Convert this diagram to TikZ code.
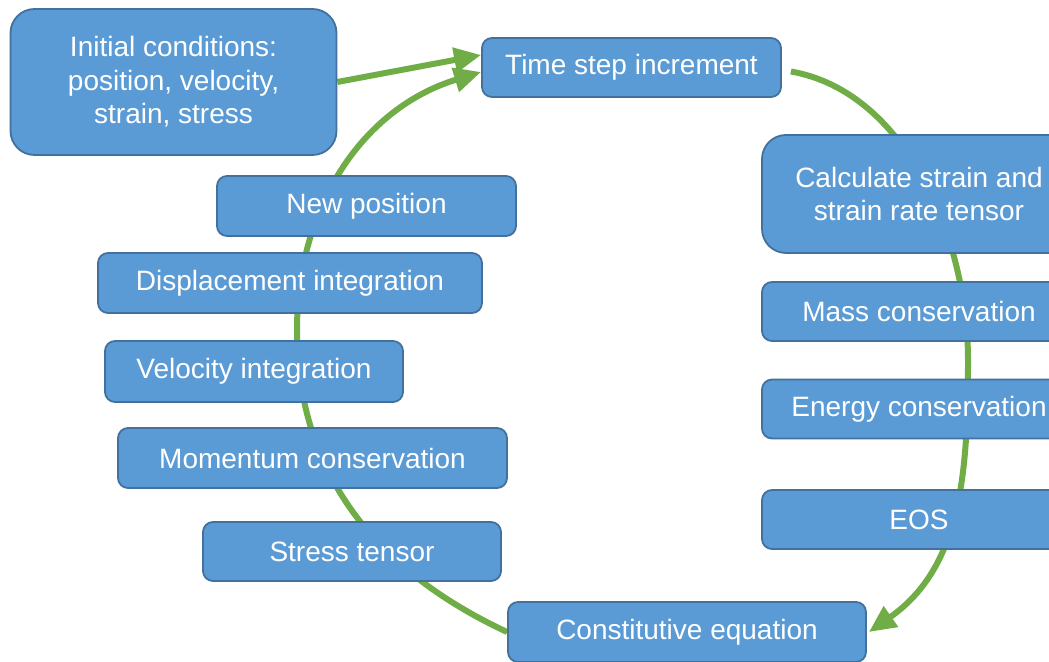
\documentclass[tikz,border=0pt]{standalone}
\usepackage{fontspec}
\setmainfont{Liberation Sans}
\usetikzlibrary{arrows.meta,backgrounds}
\definecolor{boxblue}{HTML}{5B9BD5}
\definecolor{boxedge}{HTML}{41719C}
\definecolor{flowgreen}{HTML}{70AD47}

\begin{document}
\begin{tikzpicture}[x=1pt,y=1pt,
    every node/.style={inner sep=2pt},
    stepbox/.style={draw=boxedge,line width=1.8pt,fill=boxblue,rounded corners=10pt,
      text=white,font=\fontsize{28}{33.5}\selectfont,align=center,minimum height=59pt},
    bigbox/.style={stepbox,rounded corners=24pt},
    flow/.style={draw=flowgreen,line width=6pt},
    flowarrow/.style={flow,-{Triangle[length=27pt,width=24pt]}}]
    \clip (0,0) rectangle (1049,661);
    % start and time loop head
    \node[bigbox,minimum width=326pt,minimum height=146pt] (init) at (173.5,579) {Initial conditions:\\position, velocity,\\strain, stress};
    \node[stepbox,minimum width=299pt] (tstep) at (631.5,593.5) {Time step increment};
    % right-hand column
    \node[bigbox,minimum width=314pt,minimum height=118pt] (strain) at (919,467) {Calculate strain and\\strain rate tensor};
    \node[stepbox,minimum width=314pt] (mass)   at (919,349.5) {Mass conservation};
    \node[stepbox,minimum width=314pt] (energy) at (919,252) {Energy conservation};
    \node[stepbox,minimum width=314pt] (eos)    at (919,141.5) {EOS};
    \node[stepbox,minimum width=358pt,minimum height=60pt] (const) at (687,29) {Constitutive equation};
    % left-hand column
    \node[stepbox,minimum width=298pt] (stress) at (352,109.5) {Stress tensor};
    \node[stepbox,minimum width=389pt,minimum height=60pt] (mom) at (312.5,203) {Momentum conservation};
    \node[stepbox,minimum width=298pt,minimum height=61pt] (vel) at (254,289.5) {Velocity integration};
    \node[stepbox,minimum width=384pt,minimum height=60pt] (disp) at (290,378) {Displacement integration};
    \node[stepbox,minimum width=299pt,minimum height=60pt] (newpos) at (366.5,455) {New position};
    % turning points of the loop
    \coordinate (rmid) at (968,301);
    \coordinate (lmid) at (297,331);
    \begin{pgfonlayer}{background}
        \draw[flowarrow] ([shift={(9,-4)}]tstep.east) to[out=-10,in=90,looseness=0.9] (rmid) to[out=-90,in=35] ([xshift=2pt]const.east);
        \draw[flowarrow] (const.west) to[out=155,in=-90] (lmid) to[out=90,in=197] ([shift={(0,-4.5)}]tstep.west);
        \draw[flowarrow] (init.east) -- ([yshift=12.5pt]tstep.west);
    \end{pgfonlayer}
\end{tikzpicture}
\end{document}
